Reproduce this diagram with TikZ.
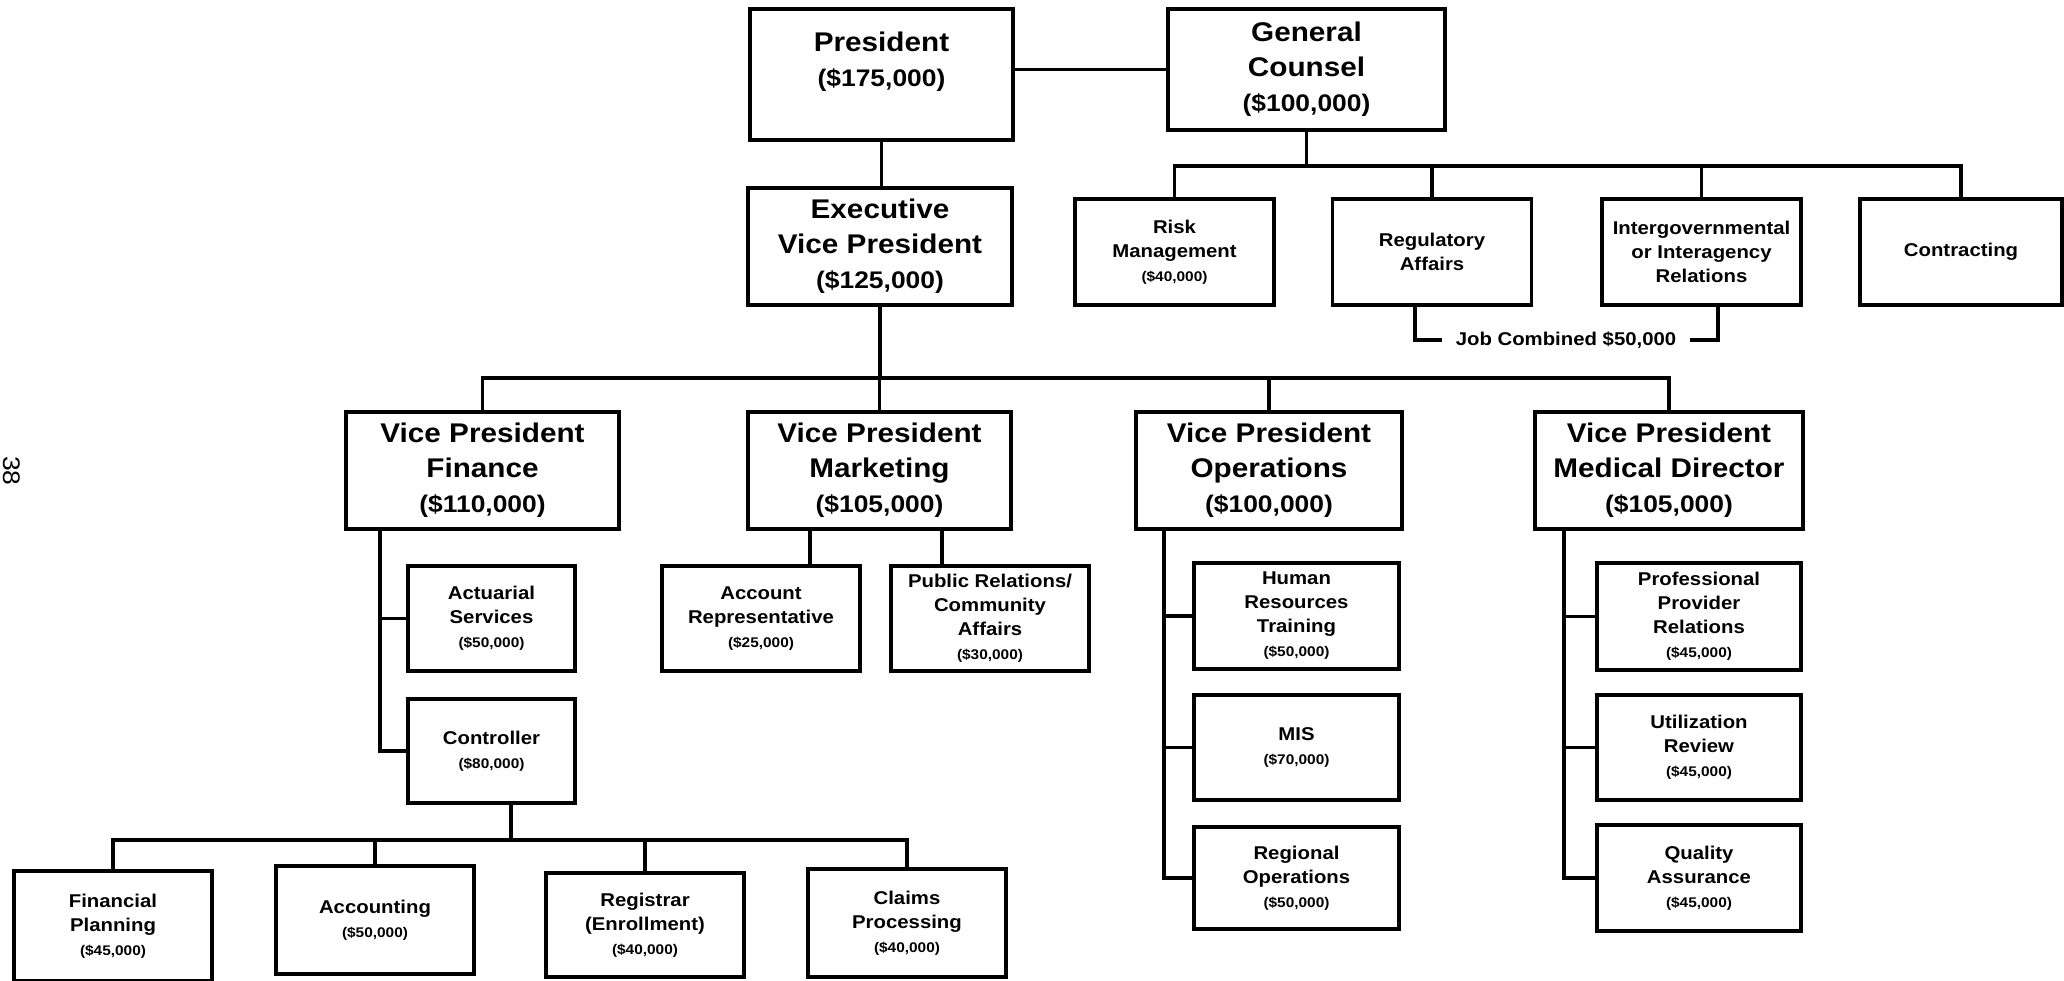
\documentclass[tikz,border=0pt]{standalone}
\usepackage{fontspec}
\setmainfont{Liberation Sans}[FakeStretch=1.1]
\newcommand{\orgbig}{\fontsize{27}{35}\selectfont\bfseries}
\newcommand{\orgsalb}{\fontsize{24}{35}\selectfont\bfseries}
\newcommand{\orgsmall}{\fontsize{18.5}{24}\selectfont\bfseries}
\newcommand{\orgsal}[1]{{\fontsize{14}{20}\selectfont\bfseries #1}}
\tikzset{
  box/.style={draw, line width=3.5pt, rectangle, inner sep=0pt, align=center},
  bigbox/.style={box, font=\orgbig},
  smallbox/.style={box, font=\orgsmall},
  conn/.style={line width=3.5pt},
}
\begin{document}
\begin{tikzpicture}[x=1pt,y=-1pt]
\useasboundingbox (0,0) rectangle (2064,981);
% top level
\node[bigbox, minimum width=263pt, minimum height=131pt, text depth=30pt] (pres) at (881.5,74.5) {President\\{\orgsalb(\$175,000)}};
\node[bigbox, minimum width=277pt, minimum height=121pt] (gc) at (1306.5,69.5) {General\\Counsel\\{\orgsalb(\$100,000)}};
\node[bigbox, minimum width=264pt, minimum height=117pt] (evp) at (880,246.5) {Executive\\Vice President\\{\orgsalb(\$125,000)}};
% counsel staff
\node[smallbox, minimum width=199pt, minimum height=106pt] (risk) at (1174.5,252) {Risk\\Management\\\orgsal{(\$40,000)}};
\node[smallbox, minimum width=199pt, minimum height=106pt] (reg) at (1432,252) {Regulatory\\Affairs};
\node[smallbox, minimum width=199pt, minimum height=106pt] (inter) at (1701.5,252) {Intergovernmental\\or Interagency\\Relations};
\node[smallbox, minimum width=202pt, minimum height=106pt] (contr) at (1961,252) {Contracting};
\node[font=\orgsmall, inner xsep=14pt, inner ysep=2pt] (job) at (1566,340) {Job Combined \$50,000};
% vice presidents
\node[bigbox, minimum width=273pt, minimum height=117pt] (vpf) at (482.5,470.5) {Vice President\\Finance\\{\orgsalb(\$110,000)}};
\node[bigbox, minimum width=263pt, minimum height=117pt] (vpm) at (879.5,470.5) {Vice President\\Marketing\\{\orgsalb(\$105,000)}};
\node[bigbox, minimum width=266pt, minimum height=117pt] (vpo) at (1269,470.5) {Vice President\\Operations\\{\orgsalb(\$100,000)}};
\node[bigbox, minimum width=268pt, minimum height=117pt] (vpmd) at (1669,470.5) {Vice President\\Medical Director\\{\orgsalb(\$105,000)}};
% finance
\node[smallbox, minimum width=167pt, minimum height=105pt] (act) at (491.5,618.5) {Actuarial\\Services\\\orgsal{(\$50,000)}};
\node[smallbox, minimum width=167pt, minimum height=104pt] (ctrl) at (491.5,751) {Controller\\\orgsal{(\$80,000)}};
\node[smallbox, minimum width=198pt, minimum height=110pt] (fp) at (113,926) {Financial\\Planning\\\orgsal{(\$45,000)}};
\node[smallbox, minimum width=198pt, minimum height=108pt] (acc) at (375,920) {Accounting\\\orgsal{(\$50,000)}};
\node[smallbox, minimum width=198pt, minimum height=104pt] (regi) at (645,925) {Registrar\\(Enrollment)\\\orgsal{(\$40,000)}};
\node[smallbox, minimum width=198pt, minimum height=108pt] (claims) at (907,923) {Claims\\Processing\\\orgsal{(\$40,000)}};
% marketing
\node[smallbox, minimum width=198pt, minimum height=105pt] (acr) at (761,618.5) {Account\\Representative\\\orgsal{(\$25,000)}};
\node[smallbox, minimum width=198pt, minimum height=105pt] (pr) at (990,618.5) {Public Relations/\\Community\\Affairs\\\orgsal{(\$30,000)}};
% operations
\node[smallbox, minimum width=205pt, minimum height=106pt] (hr) at (1296.5,616) {Human\\Resources\\Training\\\orgsal{(\$50,000)}};
\node[smallbox, minimum width=205pt, minimum height=105pt] (mis) at (1296.5,747.5) {MIS\\\orgsal{(\$70,000)}};
\node[smallbox, minimum width=205pt, minimum height=102pt] (rops) at (1296.5,878) {Regional\\Operations\\\orgsal{(\$50,000)}};
% medical
\node[smallbox, minimum width=204pt, minimum height=107pt] (ppr) at (1699,616.5) {Professional\\Provider\\Relations\\\orgsal{(\$45,000)}};
\node[smallbox, minimum width=204pt, minimum height=105pt] (ur) at (1699,747.5) {Utilization\\Review\\\orgsal{(\$45,000)}};
\node[smallbox, minimum width=204pt, minimum height=106pt] (qa) at (1699,878) {Quality\\Assurance\\\orgsal{(\$45,000)}};
% page number
\node[rotate=-90, font=\fontsize{24}{28}\selectfont] (pagenum) at (12,471) {38};
% helper coordinates
\coordinate (gcbus) at (1307,166);
\coordinate (evpbus) at (880,378);
\coordinate (jcL) at (1415,340);
\coordinate (jcR) at (1718,340);
\coordinate (fsp) at (380,750);
\coordinate (cbus) at (511,840);
\coordinate (mk1) at (810,0);
\coordinate (mk2) at (942,0);
\coordinate (osp) at (1164,0);
\coordinate (msp) at (1564,0);
% connectors
\draw[conn] (gc.west) -- (gc.west -| pres.east);
\draw[conn] (pres.south) -- (pres.south |- evp.north);
\draw[conn] (gc.south) -- (gc.south |- gcbus);
\draw[conn] (risk.north) -- (risk.north |- gcbus) -- (contr.north |- gcbus) -- (contr.north);
\draw[conn] (reg.north) -- (reg.north |- gcbus);
\draw[conn] (inter.north) -- (inter.north |- gcbus);
\draw[conn] (reg.south -| jcL) -- (jcL) -- (job.west);
\draw[conn] (job.east) -- (jcR) -- (inter.south -| jcR);
\draw[conn] (evp.south) -- (evp.south |- evpbus);
\draw[conn] (vpf.north) -- (vpf.north |- evpbus) -- (vpmd.north |- evpbus) -- (vpmd.north);
\draw[conn] (vpm.north) -- (vpm.north |- evpbus);
\draw[conn] (vpo.north) -- (vpo.north |- evpbus);
\draw[conn] (vpf.south -| fsp) -- (ctrl.west -| fsp) -- (ctrl.west);
\draw[conn] (act.west -| fsp) -- (act.west);
\draw[conn] (ctrl.south -| cbus) -- (cbus);
\draw[conn] (fp.north) -- (fp.north |- cbus) -- (claims.north |- cbus) -- (claims.north);
\draw[conn] (acc.north) -- (acc.north |- cbus);
\draw[conn] (regi.north) -- (regi.north |- cbus);
\draw[conn] (vpm.south -| mk1) -- (acr.north -| mk1);
\draw[conn] (vpm.south -| mk2) -- (pr.north -| mk2);
\draw[conn] (vpo.south -| osp) -- (rops.west -| osp) -- (rops.west);
\draw[conn] (hr.west -| osp) -- (hr.west);
\draw[conn] (mis.west -| osp) -- (mis.west);
\draw[conn] (vpmd.south -| msp) -- (qa.west -| msp) -- (qa.west);
\draw[conn] (ppr.west -| msp) -- (ppr.west);
\draw[conn] (ur.west -| msp) -- (ur.west);
\end{tikzpicture}
\end{document}
